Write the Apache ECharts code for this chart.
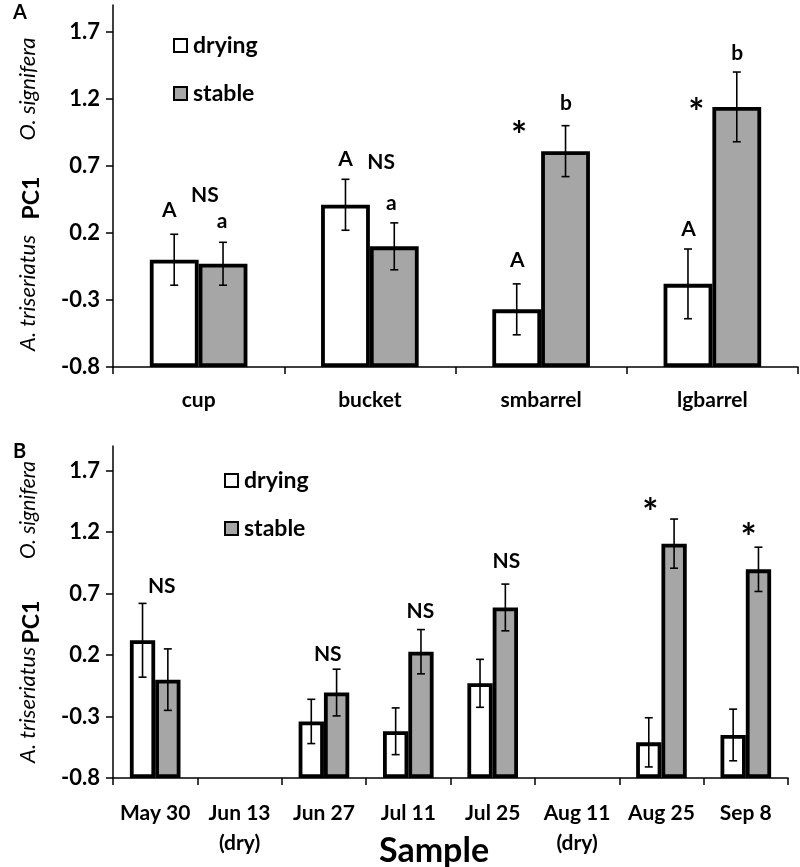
<!DOCTYPE html>
<html><head><meta charset="utf-8">
<script src="https://cdn.jsdelivr.net/npm/echarts@6/dist/echarts.min.js"></script>
<style>html,body{margin:0;padding:0;background:#fff}#c{width:800px;height:867px}</style>
</head><body><div id="c"></div>
<script>
// ---- Panel A data ----
const catsA = ['cup', 'bucket', 'smbarrel', 'lgbarrel'];
const dryA = [0.0, 0.41, -0.37, -0.18];
const dryErrA = [0.19, 0.19, 0.19, 0.26];
const stabA = [-0.03, 0.10, 0.81, 1.14];
const stabErrA = [0.16, 0.175, 0.19, 0.26];
// annotations: [categoryIndex, yValue, offsetInBarWidths, text]
const annA = [
  [0, 0.37, -0.6, 'A'], [0, 0.48, 0.13, 'NS'], [0, 0.29, 0.48, 'a'],
  [1, 0.75, -0.5, 'A'], [1, 0.725, 0.23, 'NS'], [1, 0.42, 0.44, 'a'],
  [2, 0.0, -0.49, 'A'], [2, 0.99, -0.45, '*'], [2, 1.17, 0.51, 'b'],
  [3, 0.225, -0.49, 'A'], [3, 1.16, -0.33, '*'], [3, 1.54, 0.51, 'b']
];
// ---- Panel B data ----
const catsB = ['May 30', 'Jun 13\n(dry)', 'Jun 27', 'Jul 11', 'Jul 25', 'Aug 11\n(dry)', 'Aug 25', 'Sep 8'];
const dryB = [0.32, null, -0.34, -0.42, -0.03, null, -0.51, -0.45];
const dryErrB = [0.30, null, 0.18, 0.19, 0.195, null, 0.2, 0.21];
const stabB = [0.0, null, -0.105, 0.227, 0.587, null, 1.106, 0.897];
const stabErrB = [0.25, null, 0.19, 0.18, 0.19, null, 0.2, 0.18];
const annB = [
  [0, 0.76, 0.26, 'NS'], [2, 0.21, 0.15, 'NS'], [3, 0.56, 0.48, 'NS'],
  [4, 0.96, 0.54, 'NS'], [6, 1.43, -0.44, '*'], [7, 1.23, 0.11, '*']
];
const yTicks = { min: -0.8, max: 1.9, interval: 0.5 };
// bars rise from the axis minimum: values are plotted relative to it
const BASE = yTicks.min;
const sh = v => v - BASE;

const FONT = 'Lato';
const gapA = 0.43, gapB = 0.40;

function errData(vals, errs, side) {
  const out = [];
  vals.forEach((v, i) => { if (v !== null) out.push([i, sh(v), errs[i], side]); });
  return out;
}
function errSeries(data, xi, gap) {
  return {
    type: 'custom', xAxisIndex: xi, yAxisIndex: xi, z: 5, silent: true,
    encode: { x: 0, y: 1 },
    data: data,
    renderItem: function (params, api) {
      const c = api.value(0), v = api.value(1), e = api.value(2), side = api.value(3);
      const band = api.size([1, 0])[0];
      const w = band * (1 - gap) / 2;
      const hi = api.coord([c, v + e]), lo = api.coord([c, v - e]);
      const x = hi[0] + side * w / 2;
      const cap = 4;
      const st = { stroke: '#000', lineWidth: 1.6 };
      return { type: 'group', children: [
        { type: 'line', shape: { x1: x, y1: hi[1], x2: x, y2: lo[1] }, style: st },
        { type: 'line', shape: { x1: x - cap, y1: hi[1], x2: x + cap, y2: hi[1] }, style: st },
        { type: 'line', shape: { x1: x - cap, y1: lo[1], x2: x + cap, y2: lo[1] }, style: st }
      ]};
    }
  };
}
function annSeries(ann, xi, gap) {
  const data = ann.map(a => [a[0], sh(a[1]), a[2], a[3]]);
  return {
    type: 'custom', xAxisIndex: xi, yAxisIndex: xi, z: 6, silent: true,
    encode: { x: 0, y: 1 },
    data: data,
    renderItem: function (params, api) {
      const c = api.value(0), y = api.value(1), dx = api.value(2);
      const txt = data[params.dataIndex][3];
      const band = api.size([1, 0])[0];
      const w = band * (1 - gap) / 2;
      const p = api.coord([c, y]);
      const star = txt === '*';
      return { type: 'text', x: p[0] + dx * w, y: p[1] + (star ? 10 : 0),
        style: { text: txt, fill: '#000', font: 'bold ' + (star ? 38 : 21) + 'px ' + FONT,
          textAlign: 'center', textVerticalAlign: 'middle' } };
    }
  };
}
function barSeries(name, vals, xi, fill, gap) {
  return {
    name: name, type: 'bar', xAxisIndex: xi, yAxisIndex: xi,
    data: vals.map(v => v === null ? '-' : sh(v)),
    barGap: '0%', barCategoryGap: (gap * 100) + '%',
    itemStyle: { color: fill, borderColor: '#000', borderWidth: 3.8 }
  };
}
function xAx(cats, gi, margin) {
  return {
    type: 'category', gridIndex: gi, data: cats,
    axisLine: { lineStyle: { color: '#000', width: 1.5 } },
    axisTick: { show: true, length: 7, lineStyle: { color: '#000', width: 1.5 } },
    axisLabel: { color: '#000', fontFamily: FONT, fontWeight: 'bold', fontSize: 21, margin: margin, lineHeight: 30, interval: 0 }
  };
}
function yAx(gi) {
  return {
    type: 'value', gridIndex: gi, min: 0, max: sh(yTicks.max), interval: yTicks.interval,
    splitLine: { show: false },
    axisLine: { show: true, lineStyle: { color: '#000', width: 1.5 } },
    axisTick: { show: true, length: 7, lineStyle: { color: '#000', width: 1.5 } },
    axisLabel: { color: '#000', fontFamily: FONT, fontWeight: 'bold', fontSize: 22, margin: 13, showMaxLabel: false,
      formatter: v => (Math.round((v + BASE) * 10) / 10).toFixed(1) }
  };
}
function legendAt(left, top) {
  return {
    left: left, top: top, orient: 'vertical', itemGap: 25, itemWidth: 13, itemHeight: 13,
    icon: 'rect', data: ['drying', 'stable'], selectedMode: false,
    textStyle: { color: '#000', fontFamily: FONT, fontWeight: 'bold', fontSize: 23, padding: [0, 0, 0, 1] }
  };
}
function rotText(x, y, txt, italic, bold, size) {
  return { type: 'text', x: x, y: y, rotation: Math.PI / 2,
    style: { text: txt, fill: '#000', textAlign: 'center', textVerticalAlign: 'middle',
      font: (italic ? 'italic ' : '') + (bold ? 'bold ' : '') + size + 'px ' + FONT } };
}

const chart = echarts.init(document.getElementById('c'));
chart.setOption({
  backgroundColor: '#fff',
  animation: false,
  grid: [
    { left: 113, right: 2, top: 5, bottom: 500 },
    { left: 113, right: 12, top: 446, bottom: 89 }
  ],
  xAxis: [xAx(catsA, 0, 18), xAx(catsB, 1, 20)],
  yAxis: [yAx(0), yAx(1)],
  legend: [legendAt(168, 29), legendAt(219, 464)],
  series: [
    barSeries('drying', dryA, 0, '#ffffff', gapA),
    barSeries('stable', stabA, 0, '#a6a6a6', gapA),
    errSeries(errData(dryA, dryErrA, -1).concat(errData(stabA, stabErrA, 1)), 0, gapA),
    annSeries(annA, 0, gapA),
    barSeries('drying', dryB, 1, '#ffffff', gapB),
    barSeries('stable', stabB, 1, '#a6a6a6', gapB),
    errSeries(errData(dryB, dryErrB, -1).concat(errData(stabB, stabErrB, 1)), 1, gapB),
    annSeries(annB, 1, gapB)
  ],
  graphic: [
    { type: 'text', left: 13, top: 3, style: { text: 'A', fill: '#000', font: 'bold 20px ' + FONT } },
    { type: 'text', left: 13, top: 442, style: { text: 'B', fill: '#000', font: 'bold 20px ' + FONT } },
    { type: 'group', children: [
      rotText(32, 198, 'PC1', false, true, 23),
      rotText(28, 89, 'O. signifera', true, false, 22),
      rotText(28, 293, 'A. triseriatus', true, false, 22),
      rotText(32, 622, 'PC1', false, true, 23),
      rotText(28, 510, 'O. signifera', true, false, 21),
      rotText(28, 705, 'A. triseriatus', true, false, 22)
    ]},
    { type: 'text', x: 434, y: 851, style: { text: 'Sample', fill: '#000', font: 'bold 34px ' + FONT, textAlign: 'center', textVerticalAlign: 'middle' } }
  ]
});
</script></body></html>
